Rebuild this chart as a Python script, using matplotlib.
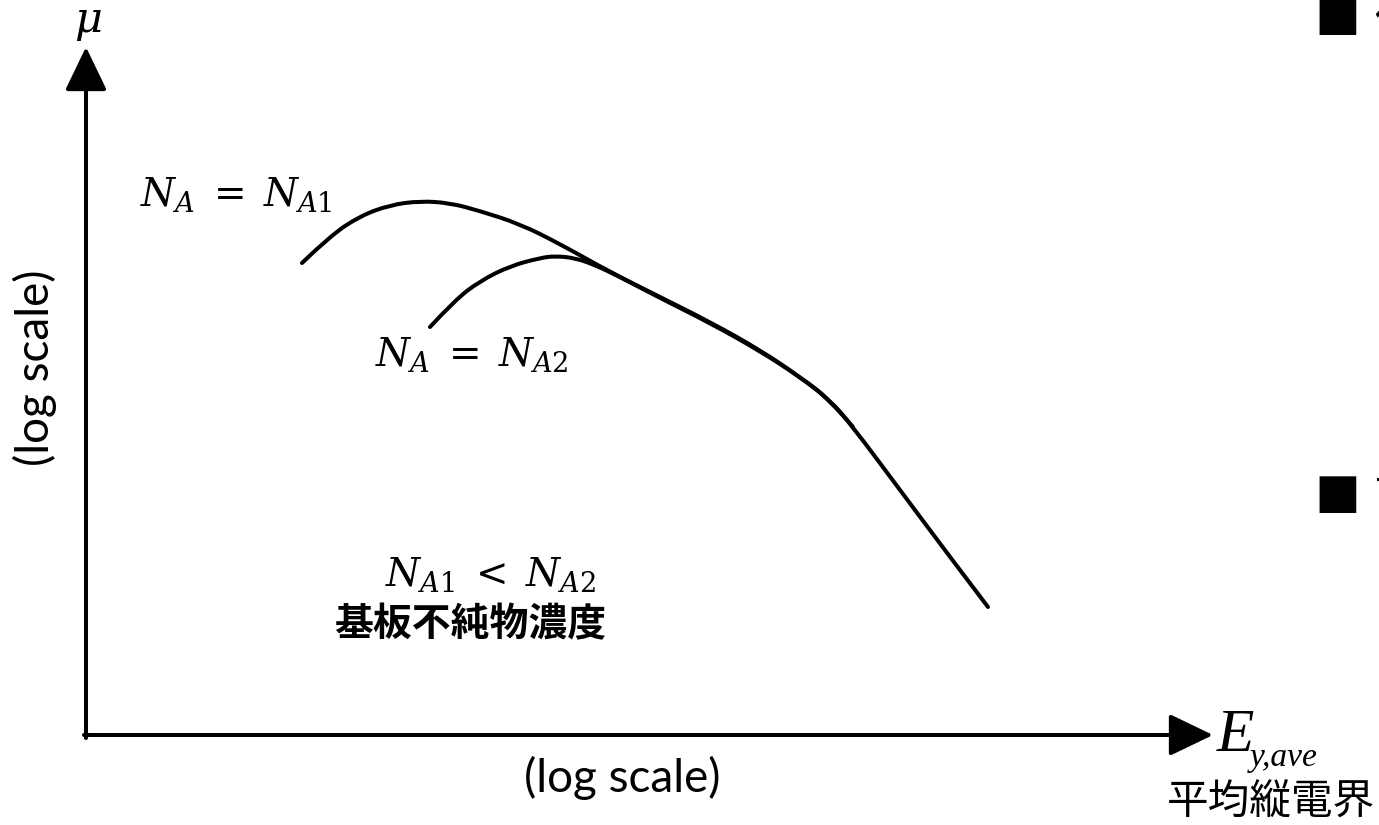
import numpy as np
import matplotlib
matplotlib.use("Agg")
import matplotlib.pyplot as plt
from matplotlib.path import Path
from matplotlib.patches import PathPatch

plt.rcParams['mathtext.fontset'] = 'dejavuserif'
cjk = ['Noto Sans CJK JP', 'DejaVu Sans']

# 移動度 vs 平均縦電界 (両対数, 任意単位)
logE_1 = [2.16, 2.44, 2.74, 3.04, 3.34, 3.64, 3.94, 4.34, 4.74, 5.24,
          5.74, 6.24, 6.74, 7.14, 7.44, 7.67, 8.14, 8.64, 9.02]
logmu_1 = [4.72, 4.99, 5.19, 5.30, 5.34, 5.32, 5.24, 5.11, 4.91, 4.63,
           4.38, 4.13, 3.85, 3.58, 3.35, 3.08, 2.45, 1.78, 1.28]

logE_2 = [3.44, 3.69, 3.94, 4.24, 4.54, 4.69, 4.89, 5.09, 5.34, 5.74,
          6.24, 6.74, 7.14, 7.44, 7.67]
logmu_2 = [4.08, 4.35, 4.54, 4.69, 4.77, 4.79, 4.77, 4.70, 4.58, 4.37,
           4.12, 3.84, 3.58, 3.35, 3.08]


def smooth_path(xs, ys):
    # 点列を制御点とする2次ベジェ曲線 (中点を通る)
    pts = np.column_stack([xs, ys])
    verts = [pts[0]]
    codes = [Path.MOVETO]
    for i in range(1, len(pts) - 1):
        mid = (pts[i] + pts[i + 1]) / 2
        end = pts[i + 1] if i == len(pts) - 2 else mid
        verts += [pts[i], end]
        codes += [Path.CURVE3, Path.CURVE3]
    return Path(verts, codes)


fig = plt.figure(figsize=(13.79, 8.25), dpi=100)
ax = fig.add_axes([0, 0, 1, 1])
ax.set_xlim(-0.86, 12.93)
ax.set_ylim(-0.90, 7.35)
ax.axis('off')

# 軸 (矢印)
arr = dict(arrowstyle='-|>,head_length=2.7,head_width=1.3', lw=2.9,
           color='black', shrinkA=0, shrinkB=0, mutation_scale=10)
ax.annotate('', xy=(0, 6.88), xytext=(0, -0.03), arrowprops=arr)
ax.annotate('', xy=(11.27, 0), xytext=(-0.02, 0), arrowprops=arr)

for xs, ys in [(logE_1, logmu_1), (logE_2, logmu_2)]:
    ax.add_patch(PathPatch(smooth_path(xs, ys), fill=False, edgecolor='black',
                           lw=2.9, capstyle='round'))

ax.text(0.02, 7.13, r'$\mu$', fontsize=31, ha='center', va='center')
ax.text(0.54, 5.40, r'$N_A\;=\;N_{A1}$', fontsize=28, ha='left', va='center')
ax.text(2.89, 3.80, r'$N_A\;=\;N_{A2}$', fontsize=28, ha='left', va='center')
ax.text(2.99, 1.60, r'$N_{A1}\;<\;N_{A2}$', fontsize=28, ha='left', va='center')
ax.text(3.84, 1.10, '基板不純物濃度', family=cjk, weight='bold', fontsize=28,
        ha='center', va='center')

ax.text(5.36, -0.43, '(log scale)', family='Lato', fontsize=33,
        ha='center', va='center')
ax.text(-0.51, 3.67, '(log scale)', family='Lato', fontsize=33,
        ha='center', va='center', rotation=90)

ax.text(11.31, -0.16, 'E', family='Liberation Serif', style='italic',
        fontsize=44, ha='left', va='baseline')
ax.text(11.64, -0.31, 'y,ave', family='Liberation Serif', style='italic',
        fontsize=24, ha='left', va='baseline')
ax.text(11.85, -0.68, '平均縦電界', family=cjk, fontsize=30,
        ha='center', va='center')

# 右端の箇条書き
for y in [7.14, 2.36]:
    ax.text(12.51, y, '■', family=cjk, fontsize=33, ha='center', va='center')
ax.text(12.88, 7.14, '低', family=cjk, fontsize=33, ha='left', va='center')
ax.text(12.88, 2.36, '高', family=cjk, fontsize=33, ha='left', va='center')

fig.savefig('out.png', dpi=100)
